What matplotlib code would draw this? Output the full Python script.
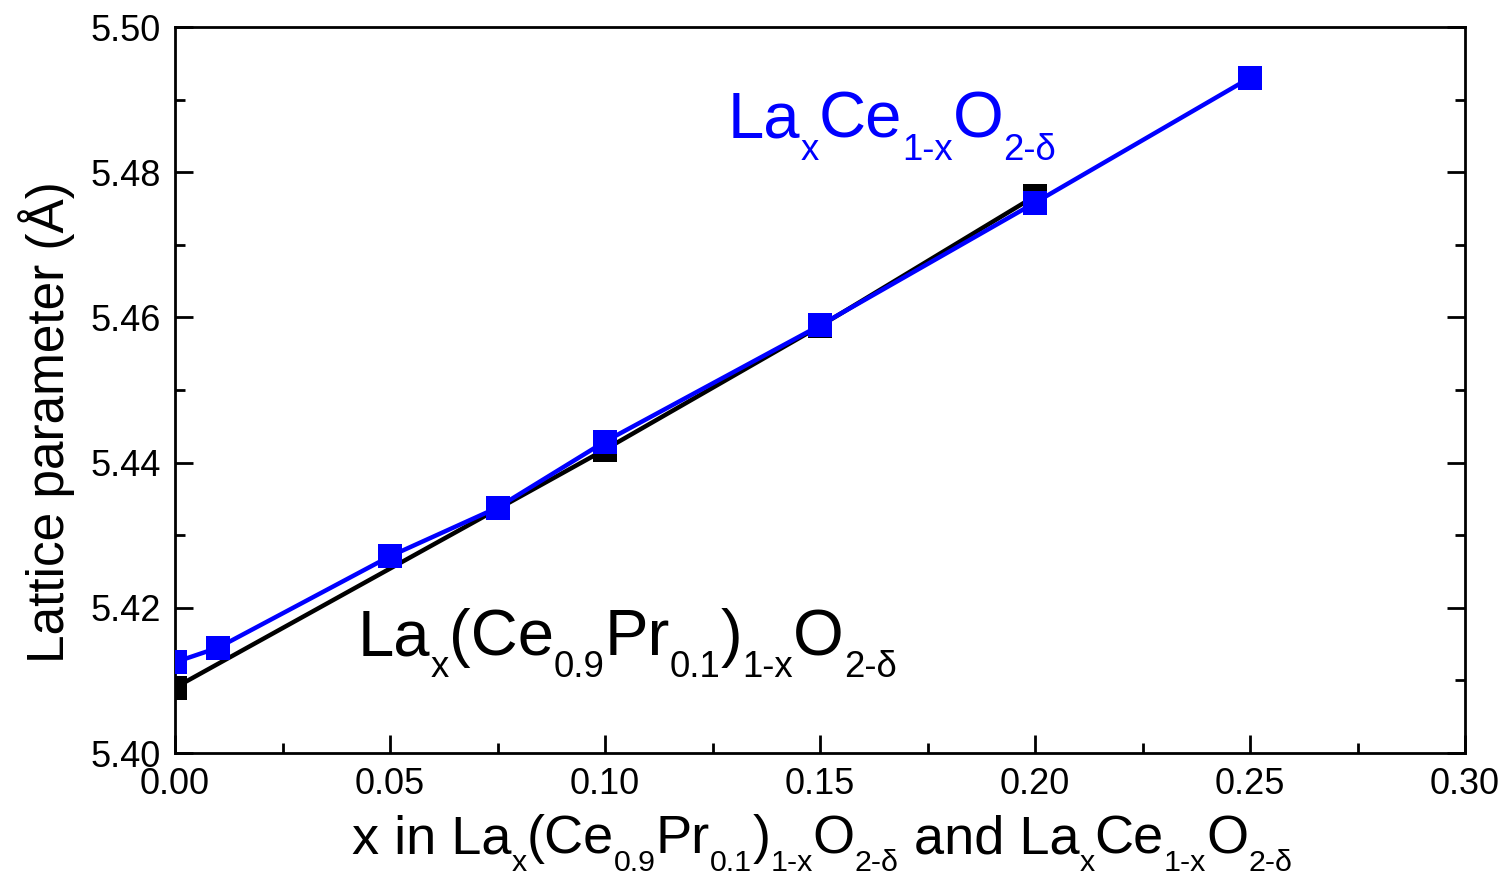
import matplotlib
matplotlib.use("Agg")
import matplotlib.pyplot as plt
from matplotlib.ticker import MultipleLocator, FormatStrFormatter

# La-Ce-Pr-O lattice parameter data
x_lacepr = [0.00, 0.10, 0.15, 0.20]
a_lacepr = [5.4090, 5.4418, 5.4588, 5.4767]

x_lace = [0.00, 0.01, 0.05, 0.075, 0.10, 0.15, 0.20, 0.25]
a_lace = [5.4125, 5.4145, 5.4271, 5.4338, 5.4429, 5.4589, 5.4758, 5.4930]

xticks = [0.00, 0.05, 0.10, 0.15, 0.20, 0.25, 0.30]
yticks = [5.40, 5.42, 5.44, 5.46, 5.48, 5.50]

label_y = "Lattice parameter (Å)"
# formula runs: (text, is_subscript)
formula_lacepr = [("La", 0), ("x", 1), ("(Ce", 0), ("0.9", 1), ("Pr", 0),
                  ("0.1", 1), (")", 0), ("1-x", 1), ("O", 0), ("2-δ", 1)]
formula_lace = [("La", 0), ("x", 1), ("Ce", 0), ("1-x", 1), ("O", 0),
                ("2-δ", 1)]
label_x = [("x in La", 0), ("x", 1), ("(Ce", 0), ("0.9", 1), ("Pr", 0),
           ("0.1", 1), (")", 0), ("1-x", 1), ("O", 0), ("2-δ", 1),
           (" and La", 0), ("x", 1), ("Ce", 0), ("1-x", 1), ("O", 0),
           ("2-δ", 1)]

plt.rcParams["font.family"] = ["Liberation Sans", "DejaVu Sans"]

W, H = 1506, 877
fig = plt.figure(figsize=(W / 100, H / 100), dpi=100)
ax = fig.add_axes([175 / W, 1 - 753 / H, (1465 - 175) / W, (753 - 27) / H])

ax.plot(x_lacepr, a_lacepr, color="black", lw=3.2, marker="s", ms=17, mew=0,
        zorder=2)
ax.plot(x_lace, a_lace, color="#0000ff", lw=3.2, marker="s", ms=17, mew=0,
        zorder=3)

ax.set_xlim(0, 0.30)
ax.set_ylim(5.40, 5.50)
ax.set_xticks(xticks)
ax.set_yticks(yticks)
ax.xaxis.set_minor_locator(MultipleLocator(0.025))
ax.yaxis.set_minor_locator(MultipleLocator(0.01))
ax.xaxis.set_major_formatter(FormatStrFormatter("%.2f"))
ax.yaxis.set_major_formatter(FormatStrFormatter("%.2f"))
ax.tick_params(which="both", direction="in", width=2, labelsize=26,
               right=True, top=False, pad=10)
ax.tick_params(which="major", length=13)
ax.tick_params(which="minor", length=7)
for sp in ax.spines.values():
    sp.set_linewidth(2)

fig.text(64 / W, 1 - 422 / H, label_y, rotation=90, rotation_mode="anchor",
         ha="center", va="baseline", fontsize=37)

renderer = fig.canvas.get_renderer()


def draw_formula(x_px, y_px, runs, size, color="black", ha="left",
                 sub_scale=0.56, drop=0.33):
    """Lay out text runs with lowered, smaller subscripts (pixel coords)."""
    texts, widths = [], []
    for s, sub in runs:
        fs = size * sub_scale if sub else size
        t = fig.text(0, 0, s, fontsize=fs, color=color, ha="left",
                     va="baseline")
        widths.append(t.get_window_extent(renderer).width)
        texts.append(t)
    total = sum(widths)
    x = x_px - total / 2 if ha == "center" else x_px
    for t, w, (s, sub) in zip(texts, widths, runs):
        y = y_px + (drop * size * 100 / 72 if sub else 0)
        t.set_position((x / W, 1 - y / H))
        x += w


draw_formula(358, 655, formula_lacepr, 47, color="black")
draw_formula(728, 138, formula_lace, 47, color="#0000ff")
draw_formula(822, 853, label_x, 39, color="black", ha="center")

fig.savefig("out.png", dpi=100)
